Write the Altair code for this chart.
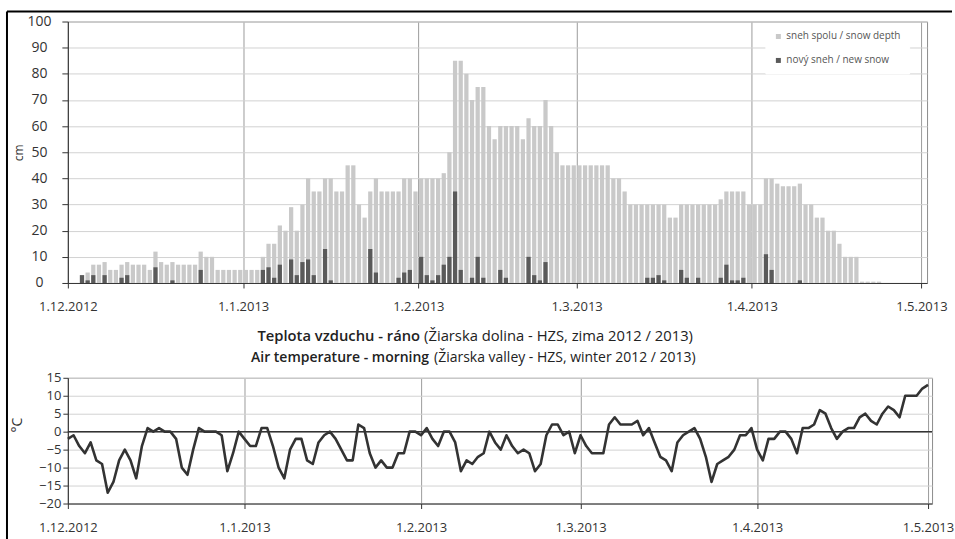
import altair as alt
import pandas as pd

# ---------------- data ----------------
# snow depth / new snow (cm), daily, Dec 2012 .. Apr 2013
snow_dec = [0,0,3,4,7,7,8,5,5,7,8,7,7,7,5,12,8,7,8,7,7,7,7,12,10,10,5,5,5,5,5]
new_dec  = [0,0,3,1,3,0,3,0,0,2,3,0,0,0,0,6,0,0,1,0,0,0,0,5,0,0,0,0,0,0,0]
snow_jan = [5,5,5,10,15,15,22,20,29,20,30,40,35,35,40,40,35,35,45,45,30,25,35,40,35,35,35,35,40,40,35]
new_jan  = [0,0,0,5,6,2,7,0,9,3,8,9,3,0,13,1,0,0,0,0,0,0,13,4,0,0,0,2,4,5,0]
snow_feb = [40,40,40,40,42,50,85,85,80,70,75,75,60,55,60,60,60,60,55,63,60,60,70,60,50,45,45,45]
new_feb  = [10,3,1,3,7,10,35,5,0,2,10,2,0,0,5,2,0,0,0,10,3,1,8,0,0,0,0,0]
snow_mar = [45,45,45,45,45,45,40,40,35,30,30,30,30,30,30,30,25,25,30,30,30,30,30,30,30,32,35,35,35,35,30]
new_mar  = [0,0,0,0,0,0,0,0,0,0,0,0,2,2,3,1,0,0,5,2,0,2,0,0,0,2,7,1,1,2,0]
snow_apr = [30,30,40,40,38,37,37,37,38,30,30,25,25,20,20,15,10,10,10,0.5,0.5,0.5,0.5,0,0,0,0,0,0,0]
new_apr  = [0,0,11,5,0,0,0,0,1,0,0,0,0,0,0,0,0,0,0,0,0,0,0,0,0,0,0,0,0,0]

# morning air temperature (deg C), daily, 1.12.2012 .. 1.5.2013
temp_dec = [-2,-1,-4,-6,-3,-8,-9,-17,-14,-8,-5,-8,-13,-4,1,0,1,0,0,-2,-10,-12,-5,1,0,0,0,-1,-11,-6,0]
temp_jan = [-2,-4,-4,1,1,-4,-10,-13,-5,-2,-2,-8,-9,-3,-1,0,-2,-5,-8,-8,2,1,-6,-10,-8,-10,-10,-6,-6,0,0]
temp_feb = [-1,1,-2,-4,0,0,-3,-11,-8,-9,-7,-6,0,-3,-5,-1,-4,-6,-5,-6,-11,-9,-1,2,2,-1,0,-6]
temp_mar = [-1,-4,-6,-6,-6,2,4,2,2,2,3,-1,1,-3,-7,-8,-11,-3,-1,0,1,-2,-7,-14,-9,-8,-7,-5,-1,-1,1]
temp_apr = [-5,-8,-2,-2,0,0,-2,-6,1,1,2,6,5,1,-2,0,1,1,4,5,3,2,5,7,6,4,10,10,10,12]
temp_may = [13]

series_names = ["sneh spolu / snow depth", "nový sneh / new snow"]
series_colors = ["#c9c9c9", "#5a5a5a"]
title_parts_1 = ["Teplota vzduchu - ráno", "(Žiarska dolina - HZS, zima 2012 / 2013)"]
title_parts_2 = ["Air temperature - morning", "(Žiarska valley - HZS, winter 2012 / 2013)"]

# ---------------- tables ----------------
snow = snow_dec + snow_jan + snow_feb + snow_mar + snow_apr
new = new_dec + new_jan + new_feb + new_mar + new_apr
days = pd.date_range("2012-12-01", periods=len(snow), freq="D")
fmt = "%Y-%m-%dT%H:%M:%S"
start = (days + pd.Timedelta(hours=3)).strftime(fmt)
end = (days + pd.Timedelta(hours=21)).strftime(fmt)
depth_df = pd.DataFrame({"start": start, "end": end, "value": snow, "series": series_names[0]})
new_df = pd.DataFrame({"start": start, "end": end, "value": new, "series": series_names[1]})
new_df = new_df[new_df["value"] > 0]

temps = temp_dec + temp_jan + temp_feb + temp_mar + temp_apr + temp_may
tdays = pd.date_range("2012-12-01", periods=len(temps), freq="D").strftime(fmt)
temp_df = pd.DataFrame({"date": tdays, "temp": temps})

one = pd.DataFrame({"k": [0]})
zero_df = pd.DataFrame({"temp": [0]})

def dt(y, m, d, h=0):
    return alt.DateTime(year=y, month=m, date=d, hours=h)

month_ticks = [dt(2012, 12, 1), dt(2013, 1, 1), dt(2013, 2, 1), dt(2013, 3, 1),
               dt(2013, 4, 1), dt(2013, 5, 1)]

FONT = "Open Sans"
TXT = "#333333"

def x_axis():
    return alt.Axis(values=month_ticks, format="%-d.%-m.%Y", formatType="time", title=None,
                    grid=True, gridColor="#9c9c9c", gridWidth=1,
                    domainColor="#333333", tickColor="#333333", tickSize=5,
                    labelFontSize=13, labelPadding=13, labelColor=TXT, labelFont=FONT,
                    labelFlush=False, labelOverlap=False)

# ---------------- top chart: snow ----------------
color = alt.Color("series:N",
                  scale=alt.Scale(domain=series_names, range=series_colors),
                  legend=alt.Legend(orient="none", legendX=699, legendY=2, title=None,
                                    direction="vertical", symbolType="square", symbolSize=25,
                                    symbolStrokeWidth=0, labelOffset=3, rowPadding=14,
                                    padding=8, fillColor="white", strokeColor="white",
                                    labelFontSize=10, labelColor="#555555", labelFont=FONT))

x_top = alt.X("start:T", scale=alt.Scale(domain=[dt(2012, 12, 1), dt(2013, 5, 2)]), axis=x_axis())
y_top = alt.Y("value:Q", stack=None, scale=alt.Scale(domain=[0, 100], nice=False),
              axis=alt.Axis(values=list(range(0, 101, 10)), title="cm", grid=True,
                            gridColor="#d2d2d2", domainColor="#333333", tickColor="#333333",
                            tickSize=6, labelAlign="center", labelPadding=23, labelFontSize=14,
                            labelColor=TXT, labelFont=FONT, labelOverlap=False,
                            titleX=-49, titleY=131,
                            titleAngle=-90, titleAlign="center", titleBaseline="middle",
                            titleFontSize=12, titleFontWeight="normal", titleColor=TXT,
                            titleFont=FONT))

light = alt.Chart(depth_df).mark_bar().encode(x=x_top, x2="end:T", y=y_top, y2=alt.datum(0), color=color)
dark = alt.Chart(new_df).mark_bar().encode(x=x_top, x2="end:T", y=y_top, y2=alt.datum(0), color=color)

frame_top = alt.Chart(one).mark_rule(color="black", strokeWidth=2).encode(
    x=alt.value(-61), x2=alt.value(886), y=alt.value(-10))
frame_left = alt.Chart(one).mark_rule(color="black", strokeWidth=2).encode(
    x=alt.value(-61), y=alt.value(-10), y2=alt.value(525))

top = alt.layer(light, dark, frame_top, frame_left).properties(width=861, height=262)

# ---------------- bottom chart: temperature ----------------
x_bot = alt.X("date:T", scale=alt.Scale(domain=[dt(2012, 12, 1), dt(2013, 5, 1, 17)]), axis=x_axis())
y_bot = alt.Y("temp:Q", scale=alt.Scale(domain=[-20, 15], nice=False),
              axis=alt.Axis(values=list(range(-20, 16, 5)), title="°C", grid=True,
                            gridColor="#d2d2d2", domainColor="#333333", tickColor="#333333",
                            tickSize=5, labelPadding=2, labelFontSize=13, labelColor=TXT,
                            labelFont=FONT, labelOverlap=False,
                            titleX=-50, titleY=47, titleAngle=-90,
                            titleAlign="center", titleBaseline="middle", titleFontSize=14,
                            titleFontWeight="normal", titleColor=TXT, titleFont=FONT))

line = alt.Chart(temp_df).mark_line(color="#333333", strokeWidth=2.6, strokeJoin="round").encode(
    x=x_bot, y=y_bot)
zero = alt.Chart(zero_df).mark_rule(color="#333333", strokeWidth=1.5).encode(y=y_bot)

def txt(s, x, y, align, size, weight):
    return alt.Chart(pd.DataFrame({"t": [s]})).mark_text(
        align=align, baseline="middle", fontSize=size, fontWeight=weight, font=FONT,
        color="#222222").encode(text="t:N", x=alt.value(x), y=alt.value(y))

t1a = txt(title_parts_1[0], 353, -41, "right", 14.8, 600)
t1b = txt(title_parts_1[1], 357, -41, "left", 14.8, "normal")
t2a = txt(title_parts_2[0], 362, -20, "right", 14, 600)
t2b = txt(title_parts_2[1], 367, -20, "left", 14, "normal")

bottom = alt.layer(zero, line, t1a, t1b, t2a, t2b).properties(width=866, height=126)

chart = alt.vconcat(top, bottom, spacing=95, bounds="flush").properties(
    padding={"left": 5, "top": 9, "right": 0, "bottom": 0}
).configure(font=FONT).configure_view(stroke="#8c8c8c", strokeWidth=1)

chart.save("out.html", embed_options={"renderer": "svg", "actions": False})
